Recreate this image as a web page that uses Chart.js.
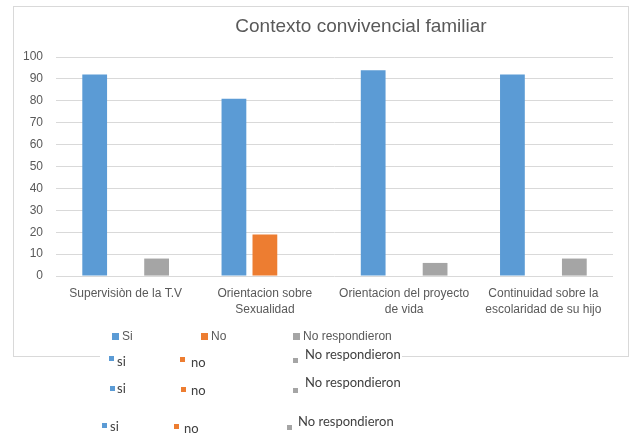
<!DOCTYPE html>
<html>
<head>
<meta charset="utf-8">
<script src="https://cdn.jsdelivr.net/npm/chart.js@4/dist/chart.umd.min.js"></script>
<style>
  html, body { margin: 0; padding: 0; background: #fff; }
  #wrap { width: 636px; height: 434px; position: relative; }
</style>
</head>
<body>
<div id="wrap"><canvas id="chart" width="636" height="434"></canvas></div>
<script>
// Contexto convivencial familiar — grouped bars, Excel look

const chartTitle = 'Contexto convivencial familiar';
const categories = [
  'Supervisiòn de la T.V',
  ['Orientacion sobre', 'Sexualidad'],
  ['Orientacion del proyecto', 'de vida'],
  ['Continuidad sobre la', 'escolaridad de su hijo']
];
const seriesNames = ['Si', 'No', 'No respondieron'];
const siValues = [92, 81, 94, 92];
const noValues = [null, 19, null, null];
const noRespValues = [8, null, 6, 8];
const extraLegendNames = ['si', 'no', 'No respondieron'];

const SERIES_COLORS = ['#5B9BD5', '#ED7D31', '#A5A5A5'];
const AXIS_FONT = { family: "'Liberation Sans', Arial, sans-serif", size: 12, lineHeight: 1.33 };
const TEXT_GRAY = '#595959';

// the three loose legend rows pasted under the chart frame
const EXTRA_ROWS = [
  { sq: [[109, 356], [180, 357], [293, 358]], tx: [[117, 362], [191, 363], [305, 355]] },
  { sq: [[110, 386], [181, 387], [293, 388]], tx: [[117, 389], [191, 391], [305, 383]] },
  { sq: [[102, 423], [174, 424], [287, 425]], tx: [[110, 427], [184, 429], [298, 422]] }
];
const MAIN_LEGEND = { box: [112, 201, 293], y: 337 };

const decor = {
  id: 'decor',
  beforeDraw(chart) {
    const ctx = chart.ctx;
    ctx.save();
    ctx.fillStyle = '#fff';
    ctx.fillRect(0, 0, chart.width, chart.height);
    ctx.strokeStyle = '#d9d9d9';
    ctx.lineWidth = 1;
    ctx.strokeRect(13.5, 6.5, 615, 350);
    ctx.restore();
  },
  afterDraw(chart) {
    const ctx = chart.ctx;
    ctx.save();
    // title
    ctx.fillStyle = TEXT_GRAY;
    ctx.font = "19px 'Liberation Sans', Arial, sans-serif";
    ctx.textAlign = 'center';
    ctx.textBaseline = 'middle';
    ctx.fillText(chartTitle, 361, 27);

    // main legend inside the frame
    ctx.textAlign = 'left';
    ctx.font = "12px 'Liberation Sans', Arial, sans-serif";
    chart.data.datasets.forEach((ds, i) => {
      const x = MAIN_LEGEND.box[i];
      ctx.fillStyle = ds.backgroundColor;
      ctx.fillRect(x, MAIN_LEGEND.y - 4, 7, 7);
      ctx.fillStyle = TEXT_GRAY;
      ctx.fillText(ds.label, x + 10, MAIN_LEGEND.y);
    });

    // extra legend rows
    ctx.font = "13px Lato, 'Open Sans', sans-serif";
    EXTRA_ROWS.forEach((row, r) => {
      if (r === 0) {
        ctx.fillStyle = '#fff';
        ctx.fillRect(100, 349, 302, 16);
      }
      extraLegendNames.forEach((name, i) => {
        ctx.fillStyle = SERIES_COLORS[i];
        ctx.fillRect(row.sq[i][0], row.sq[i][1], 5, 5);
        ctx.fillStyle = '#404040';
        ctx.fillText(name, row.tx[i][0], row.tx[i][1]);
      });
    });
    ctx.restore();
  }
};

new Chart(document.getElementById('chart'), {
  type: 'bar',
  data: {
    labels: categories,
    datasets: [siValues, noValues, noRespValues].map((data, i) => ({
      label: seriesNames[i],
      data,
      backgroundColor: SERIES_COLORS[i],
      borderWidth: 0
    }))
  },
  options: {
    responsive: false,
    animation: false,
    layout: { padding: { left: 10, right: 23, top: 57, bottom: 114 } },
    datasets: { bar: { categoryPercentage: 0.667, barPercentage: 0.8 } },
    plugins: {
      legend: { display: false },
      title: { display: false },
      tooltip: { enabled: false }
    },
    scales: {
      x: {
        grid: { display: false },
        border: { display: false },
        ticks: { font: AXIS_FONT, color: TEXT_GRAY, padding: 2, maxRotation: 0, autoSkip: false }
      },
      y: {
        min: 0, max: 100,
        grid: { color: '#d9d9d9', drawTicks: false },
        border: { display: false },
        ticks: { stepSize: 10, font: AXIS_FONT, color: TEXT_GRAY, padding: 13 }
      }
    }
  },
  plugins: [decor]
});
</script>
</body>
</html>
